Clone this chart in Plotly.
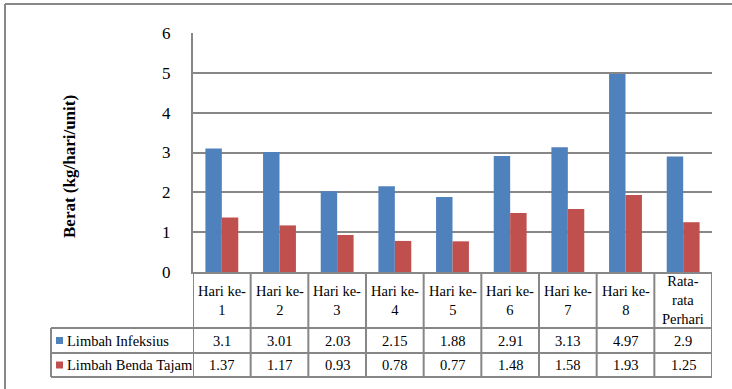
import plotly.graph_objects as go

# Data
categories = ["Hari ke-<br>1", "Hari ke-<br>2", "Hari ke-<br>3", "Hari ke-<br>4",
              "Hari ke-<br>5", "Hari ke-<br>6", "Hari ke-<br>7", "Hari ke-<br>8",
              "Rata-<br>rata<br>Perhari"]
series_names = ["Limbah Infeksius", "Limbah Benda Tajam"]
infeksius = [3.1, 3.01, 2.03, 2.15, 1.88, 2.91, 3.13, 4.97, 2.9]
benda_tajam = [1.37, 1.17, 0.93, 0.78, 0.77, 1.48, 1.58, 1.93, 1.25]
y_ticks = [0, 1, 2, 3, 4, 5, 6]
y_title = "Berat (kg/hari/unit)"

W, H = 732, 389
BLUE = "#4F81BD"
RED = "#C0504D"
GRID = "#878787"
FONT = "'Liberation Serif', 'DejaVu Serif', serif"


def px_x(p):
    return p / W


def px_y(p):
    return (H - p) / H


# plot area (pixel geometry)
PL, PR = 193, 712
PT, PB = 33, 272
# table rows
ROW1, ROW2, ROW3 = 328, 353, 377
TABLE_LEFT = 51

idx = list(range(len(categories)))

fig = go.Figure()
fig.add_trace(go.Bar(x=idx, y=infeksius, name=series_names[0],
                     marker=dict(color=BLUE, line=dict(width=0))))
fig.add_trace(go.Bar(x=idx, y=benda_tajam, name=series_names[1],
                     marker=dict(color=RED, line=dict(width=0))))

shapes = []
annotations = []

# table vertical lines at category boundaries
for k in range(len(categories) + 1):
    shapes.append(dict(type="line", xref="x", yref="paper",
                       x0=k - 0.5, x1=k - 0.5, y0=px_y(PB), y1=px_y(ROW3),
                       line=dict(color=GRID, width=2)))
# legend column left edge and horizontal rules
shapes.append(dict(type="line", xref="paper", yref="paper",
                   x0=px_x(TABLE_LEFT), x1=px_x(TABLE_LEFT),
                   y0=px_y(ROW1), y1=px_y(ROW3), line=dict(color=GRID, width=2)))
for r in (ROW1, ROW2, ROW3):
    shapes.append(dict(type="line", xref="paper", yref="paper",
                       x0=px_x(TABLE_LEFT), x1=px_x(PR), y0=px_y(r), y1=px_y(r),
                       line=dict(color=GRID, width=2)))

# outer chart border (top and left edges)
shapes.append(dict(type="line", xref="paper", yref="paper",
                   x0=px_x(5), x1=1, y0=px_y(4), y1=px_y(4),
                   line=dict(color=GRID, width=2)))
shapes.append(dict(type="line", xref="paper", yref="paper",
                   x0=px_x(5), x1=px_x(5), y0=px_y(4), y1=0,
                   line=dict(color=GRID, width=2)))

# category header cells
for i, c in enumerate(categories):
    annotations.append(dict(x=i, y=px_y((PB + ROW1) / 2), xref="x", yref="paper",
                            xanchor="center", yanchor="middle",
                            text=c, showarrow=False, align="center",
                            font=dict(family=FONT, size=14.5, color="#000000")))

# value rows with legend keys
for r, (name, vals, col) in enumerate([(series_names[0], infeksius, BLUE),
                                       (series_names[1], benda_tajam, RED)]):
    top = ROW1 if r == 0 else ROW2
    bot = ROW2 if r == 0 else ROW3
    cy = (top + bot) / 2
    for i, v in enumerate(vals):
        annotations.append(dict(x=i, y=px_y(cy), xref="x", yref="paper",
                                xanchor="center", yanchor="middle",
                                text=f"{v:g}", showarrow=False,
                                font=dict(family=FONT, size=14.5, color="#000000")))
    shapes.append(dict(type="rect", xref="paper", yref="paper",
                       x0=px_x(56), x1=px_x(63), y0=px_y(cy + 3.5), y1=px_y(cy - 3.5),
                       fillcolor=col, line=dict(width=0)))
    annotations.append(dict(x=px_x(65), y=px_y(cy), xref="paper", yref="paper",
                            text=name, showarrow=False,
                            xanchor="left", yanchor="middle",
                            font=dict(family=FONT, size=14.5, color="#000000")))

# y axis title
annotations.append(dict(x=px_x(69), y=px_y(167), xref="paper", yref="paper",
                        xanchor="center", yanchor="middle",
                        text=f"<b>{y_title}</b>", textangle=-90, showarrow=False,
                        font=dict(family=FONT, size=17, color="#000000")))

fig.update_layout(
    width=W, height=H,
    margin=dict(l=0, r=0, t=0, b=0, pad=0, autoexpand=False),
    paper_bgcolor="white", plot_bgcolor="white",
    showlegend=False,
    barmode="group", bargap=0.43, bargroupgap=0,
    shapes=shapes, annotations=annotations,
    xaxis=dict(domain=[px_x(PL), px_x(PR)], range=[-0.5, len(categories) - 0.5],
               showticklabels=False, showgrid=False, zeroline=False, automargin=False,
               showline=True, linecolor=GRID, linewidth=2, ticks=""),
    yaxis=dict(domain=[px_y(PB), px_y(PT)], range=[0, 6.0001], automargin=False,
               tickvals=y_ticks, ticktext=[str(t) for t in y_ticks],
               showgrid=True, gridcolor=GRID, gridwidth=2,
               zeroline=False, showline=True, linecolor=GRID, linewidth=2,
               ticks="", ticklabelstandoff=17,
               tickfont=dict(family=FONT, size=17, color="#000000")),
)

fig.write_html("out.html")
